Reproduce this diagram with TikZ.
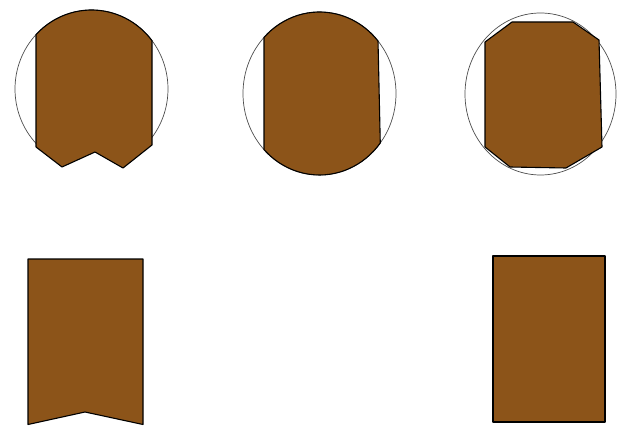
\documentclass[tikz,border=0pt]{standalone}
\usetikzlibrary{calc}
\definecolor{wood}{RGB}{140,84,25}
\begin{document}
\begin{tikzpicture}[x=1pt,y=1pt,
  outline/.style={draw=black!70,line width=0.7pt},
  piece/.style={fill=wood,draw=black,line width=1.1pt,line join=round}]
\useasboundingbox (0,0) rectangle (620,426);
% circle 1
\coordinate (c1) at (91.5,337);
\draw[outline] (c1) ++(-44:76.5pt and 79pt)
  arc[start angle=-44,end angle=224,x radius=76.5pt,y radius=79pt];
\path[piece] (c1) ++(136.5:76.5pt and 79pt)
  arc[start angle=136.5,end angle=37.7,x radius=76.5pt,y radius=79pt]
  -- (152,281) -- (123,258) -- (95,274) -- (62,259) -- (36,279) -- cycle;
% circle 2
\coordinate (c2) at (319.5,332.5);
\draw[outline] (c2) ellipse[x radius=76.5pt,y radius=81.5pt];
\path[piece] (c2) ++(136.5:76.5pt and 81.5pt)
  arc[start angle=136.5,end angle=40.1,x radius=76.5pt,y radius=81.5pt]
  -- ($(c2)+(-37.4:76.5pt and 81.5pt)$)
  arc[start angle=-37.4,end angle=-136.5,x radius=76.5pt,y radius=81.5pt]
  -- cycle;
% circle 3
\coordinate (c3) at (540.5,332);
\draw[outline] (c3) ellipse[x radius=75.5pt,y radius=81pt];
\path[piece] (512,404) -- (573,404) -- (599,386) -- (602,279) -- (566,258)
  -- (510,259) -- (485,279) -- (485,384) -- cycle;
% banner
\path[piece] (28,167) -- (143,167) -- (143,1.5) -- (85,14) -- (28,1.5) -- cycle;
% rectangle
\path[piece] (493,4) rectangle (605,170);
\end{tikzpicture}
\end{document}
